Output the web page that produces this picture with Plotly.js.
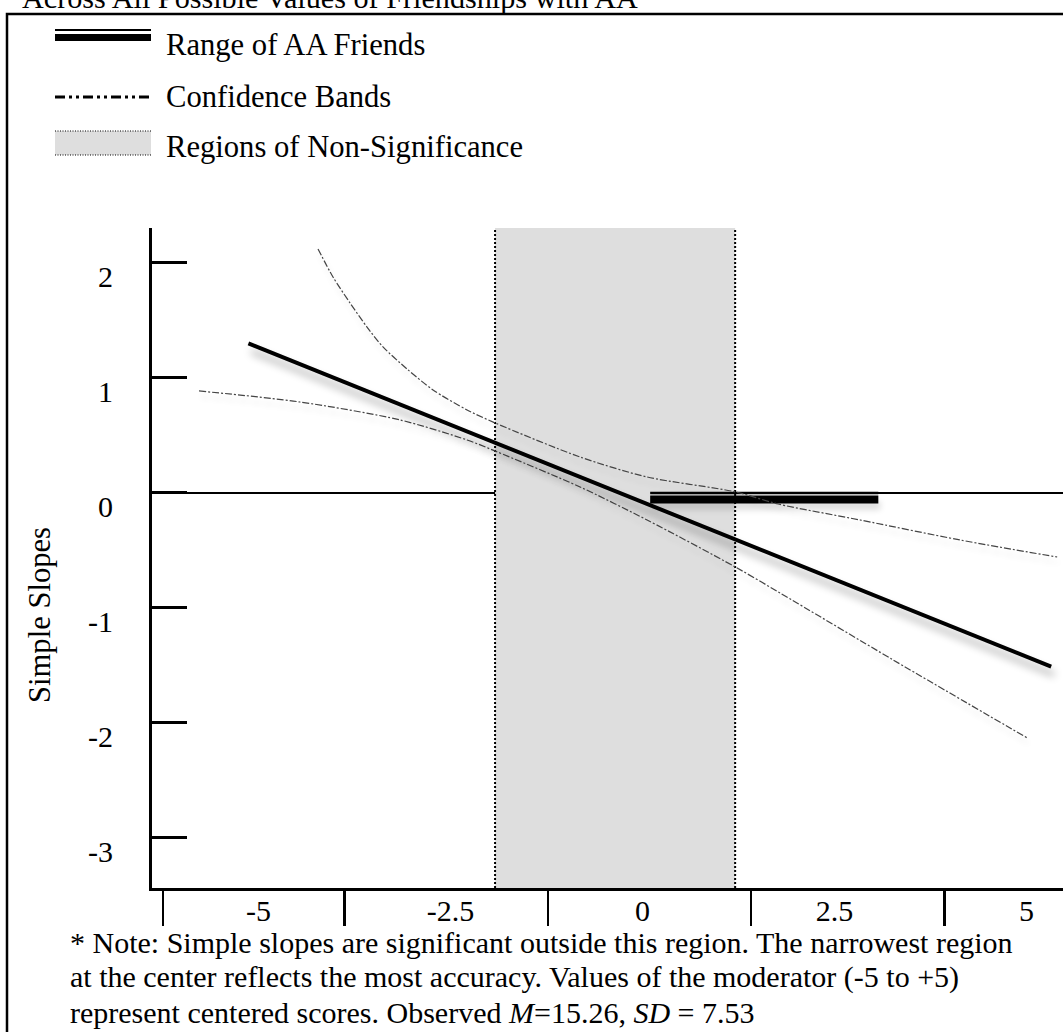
<!DOCTYPE html>
<html>
<head>
<meta charset="utf-8">
<script src="https://cdn.plot.ly/plotly-3.0.1.min.js"></script>
<style>
  html, body { margin: 0; padding: 0; background: #ffffff; }
  #chart { width: 1063px; height: 1032px; }
</style>
</head>
<body>
<div id="chart"></div>
<script>
// ---------------- data ----------------
const xTickVals = [-5, -2.5, 0, 2.5, 5];
const xTickText = ['-5', '-2.5', '0', '2.5', '5'];
const xBandEdges = [-6.24, -3.88, -1.23, 1.41, 3.93];
const yTickVals = [2, 1, 0, -1, -2, -3];
const yTickText = ['2', '1', '0', '-1', '-2', '-3'];

// simple slope line
const slopeX = [-5.13, 5.32];
const slopeY = [1.30, -1.51];

// upper confidence band
const upperX = [-4.224, -4.029, -3.807, -3.586, -3.378, -3.065, -2.727, -2.284, -1.919, -0.813, 0.060, 1.206, 1.766, 2.833, 4.135, 5.398];
const upperY = [2.122, 1.878, 1.652, 1.443, 1.270, 1.078, 0.896, 0.722, 0.609, 0.313, 0.139, 0.010, -0.096, -0.235, -0.409, -0.557];

// lower confidence band
const lowerX = [-5.773, -4.458, -3.156, -2.284, -1.919, -0.813, 0.060, 1.206, 1.792, 3.263, 5.008];
const lowerY = [0.887, 0.791, 0.635, 0.461, 0.365, 0.052, -0.235, -0.643, -0.870, -1.452, -2.130];

// region of non-significance (Johnson-Neyman bounds)
const regionBounds = [-1.919, 1.206];

// observed range of AA friends
const rangeX = [0.10, 3.07];
const rangeLineY = [0, 0];
const rangeBarY = [-0.056, -0.056];

// texts
const titleText = 'Across All Possible Values of Friendships with AA';
const legendLabels = ['Range of AA Friends', 'Confidence Bands', 'Regions of Non-Significance'];
const yTitle = 'Simple Slopes';
const noteLines = [
  '* Note: Simple slopes are significant outside this region. The narrowest region',
  'at the center reflects the most accuracy. Values of the moderator (-5 to +5)',
  'represent centered scores. Observed <i>M</i>=15.26, <i>SD</i> = 7.53'
];

// ---------------- layout helpers ----------------
const W = 1063, H = 1032;
const M = { l: 152, r: 0, t: 228, b: 144 };
const PW = W - M.l - M.r, PH = H - M.t - M.b;
const xRange = [-6.385, 5.474];
const yRange = [-3.435, 2.304];
const px = v => (v - M.l) / PW;          // pixel x -> paper x
const py = v => (H - M.b - v) / PH;      // pixel y -> paper y

const FAMILY = 'Liberation Serif';
const FONT = '"Liberation Serif", "Times New Roman", serif';
const FS = 30;

// fit a font size so that a text spans the width seen in the reference
const ctx = document.createElement('canvas').getContext('2d');
function fitSize(text, target) {
  ctx.font = '100px "' + FAMILY + '"';
  const w = ctx.measureText(text.replace(/<[^>]+>/g, '')).width;
  return w > 0 ? 100 * target / w : FS;
}
const noteSize = Math.min(30, Math.max(24, fitSize(noteLines[0], 965)));
const legendSize = Math.min(34, Math.max(24,
  (fitSize(legendLabels[0], 263) + fitSize(legendLabels[1], 226) + fitSize(legendLabels[2], 356)) / 3));
const titleSize = Math.min(34, Math.max(24, fitSize(titleText, 620)));

const traces = [
  { // region fill
    x: [regionBounds[0], regionBounds[1], regionBounds[1], regionBounds[0], regionBounds[0]],
    y: [yRange[0], yRange[0], yRange[1], yRange[1], yRange[0]],
    mode: 'lines', fill: 'toself', fillcolor: '#dedede',
    line: { width: 0, color: 'rgba(0,0,0,0)' }, hoverinfo: 'skip'
  },
  { // region borders
    x: [regionBounds[0], regionBounds[0], null, regionBounds[1], regionBounds[1]],
    y: [yRange[0], yRange[1], null, yRange[0], yRange[1]],
    mode: 'lines', line: { color: '#000', width: 2, dash: '2px,2px' }, hoverinfo: 'skip'
  },
  { // range thin line
    x: rangeX, y: rangeLineY, mode: 'lines',
    line: { color: '#000', width: 2.5 }, hoverinfo: 'skip'
  },
  { // range thick bar
    x: rangeX, y: rangeBarY, mode: 'lines',
    line: { color: '#000', width: 8 }, hoverinfo: 'skip'
  },
  { // lower band
    x: lowerX, y: lowerY, mode: 'lines',
    line: { color: '#444', width: 1.2, dash: '7px,2px,2px,2px', shape: 'spline', smoothing: 0.8 }, hoverinfo: 'skip'
  },
  { // upper band
    x: upperX, y: upperY, mode: 'lines',
    line: { color: '#444', width: 1.2, dash: '7px,2px,2px,2px', shape: 'spline', smoothing: 0.8 }, hoverinfo: 'skip'
  },
  { // simple slope
    x: slopeX, y: slopeY, mode: 'lines',
    line: { color: '#000', width: 4 }, hoverinfo: 'skip'
  },
  { // anchor for band-edge axis
    x: xBandEdges, y: xBandEdges.map(() => null), xaxis: 'x2', mode: 'markers',
    marker: { opacity: 0 }, hoverinfo: 'skip'
  }
];

const shapes = [
  // outer frame
  { type: 'rect', xref: 'paper', yref: 'paper', x0: px(7), x1: px(1080), y0: py(14), y1: py(1050),
    line: { color: '#000', width: 2.5 }, fillcolor: 'rgba(0,0,0,0)' },
  // legend: range of AA friends
  { type: 'line', xref: 'paper', yref: 'paper', x0: px(55), x1: px(151), y0: py(30), y1: py(30),
    line: { color: '#000', width: 2 } },
  { type: 'rect', xref: 'paper', yref: 'paper', x0: px(55), x1: px(151), y0: py(34), y1: py(41),
    line: { width: 0 }, fillcolor: '#000' },
  // legend: confidence bands
  { type: 'line', xref: 'paper', yref: 'paper', x0: px(55), x1: px(151), y0: py(97), y1: py(97),
    line: { color: '#000', width: 3, dash: '10px,4px,3px,4px,3px,4px' } },
  // legend: regions
  { type: 'rect', xref: 'paper', yref: 'paper', x0: px(55), x1: px(151), y0: py(131), y1: py(155),
    line: { width: 0 }, fillcolor: '#dedede' },
  { type: 'line', xref: 'paper', yref: 'paper', x0: px(55), x1: px(151), y0: py(131), y1: py(131),
    line: { color: '#000', width: 1.2, dash: '1px,1.5px' } },
  { type: 'line', xref: 'paper', yref: 'paper', x0: px(55), x1: px(151), y0: py(155), y1: py(155),
    line: { color: '#000', width: 1.2, dash: '1px,1.5px' } }
];

const txt = (text, x, y, size, extra) => Object.assign({
  text: text, xref: 'paper', yref: 'paper', x: px(x), y: py(y),
  xanchor: 'left', yanchor: 'middle', showarrow: false,
  font: { family: FONT, size: size, color: '#000' }
}, extra || {});

const annotations = [
  txt(titleText, 20, 17, titleSize, { yanchor: 'bottom' }),
  txt(legendLabels[0], 164, 45, legendSize),
  txt(legendLabels[1], 164, 97, legendSize),
  txt(legendLabels[2], 164, 147, legendSize),
  txt(yTitle, 40, 615, legendSize, { textangle: -90, xanchor: 'center' }),
  txt(noteLines[0], 68, 942, noteSize),
  txt(noteLines[1], 68, 977, noteSize),
  txt(noteLines[2], 68, 1012, noteSize)
];

const layout = {
  width: W, height: H,
  margin: M,
  paper_bgcolor: '#fff', plot_bgcolor: '#fff',
  showlegend: false,
  font: { family: FONT, size: FS, color: '#000' },
  xaxis: {
    range: xRange, showgrid: false, zeroline: false,
    showline: true, linecolor: '#000', linewidth: 3,
    tickmode: 'array', tickvals: xTickVals, ticktext: xTickText, ticks: '',
    ticklabelstandoff: -6, tickfont: { family: FONT, size: FS, color: '#000' }
  },
  xaxis2: {
    range: xRange, overlaying: 'x', anchor: 'y', side: 'bottom',
    showgrid: false, zeroline: false, showline: false,
    tickmode: 'array', tickvals: xBandEdges, ticks: 'outside', ticklen: 37, tickwidth: 2.5,
    tickcolor: '#000', showticklabels: false
  },
  yaxis: {
    range: yRange, showgrid: false,
    zeroline: true, zerolinecolor: '#000', zerolinewidth: 2.5,
    showline: true, linecolor: '#000', linewidth: 3,
    tickmode: 'array', tickvals: yTickVals, ticktext: yTickText,
    ticks: 'inside', ticklen: 35, tickwidth: 3, tickcolor: '#000',
    ticklabelstandoff: 30, ticklabelshift: 14,
    tickfont: { family: FONT, size: FS, color: '#000' }
  },
  shapes: shapes,
  annotations: annotations
};

Plotly.newPlot('chart', traces, layout, { displayModeBar: false, staticPlot: true }).then(gd => {
  const NS = 'http://www.w3.org/2000/svg';
  const svg = gd.querySelector('.main-svg');
  let defs = svg.querySelector('defs');
  if (!defs) { defs = document.createElementNS(NS, 'defs'); svg.insertBefore(defs, svg.firstChild); }
  function makeShadow(id, blur, dx, dy, alpha) {
    const f = document.createElementNS(NS, 'filter');
    f.setAttribute('id', id);
    f.setAttribute('filterUnits', 'userSpaceOnUse');
    f.setAttribute('x', '-2000'); f.setAttribute('y', '-2000');
    f.setAttribute('width', '6000'); f.setAttribute('height', '6000');
    f.innerHTML =
      '<feGaussianBlur in="SourceAlpha" stdDeviation="' + blur + '" result="b"/>' +
      '<feOffset in="b" dx="' + dx + '" dy="' + dy + '" result="o"/>' +
      '<feComponentTransfer in="o" result="t"><feFuncA type="linear" slope="' + alpha + '"/></feComponentTransfer>' +
      '<feMerge><feMergeNode in="t"/><feMergeNode in="SourceGraphic"/></feMerge>';
    defs.appendChild(f);
  }
  makeShadow('shadowMain', 4, 3, 8, 0.35);
  makeShadow('shadowLight', 3, 2, 6, 0.15);
  const groups = gd.querySelectorAll('.scatterlayer .trace');
  const apply = (i, id) => {
    if (!groups[i]) return;
    groups[i].querySelectorAll('path.js-line').forEach(p => p.setAttribute('filter', 'url(#' + id + ')'));
  };
  apply(6, 'shadowMain');
  apply(3, 'shadowLight');
  apply(4, 'shadowLight');
  apply(5, 'shadowLight');
});
</script>
</body>
</html>
